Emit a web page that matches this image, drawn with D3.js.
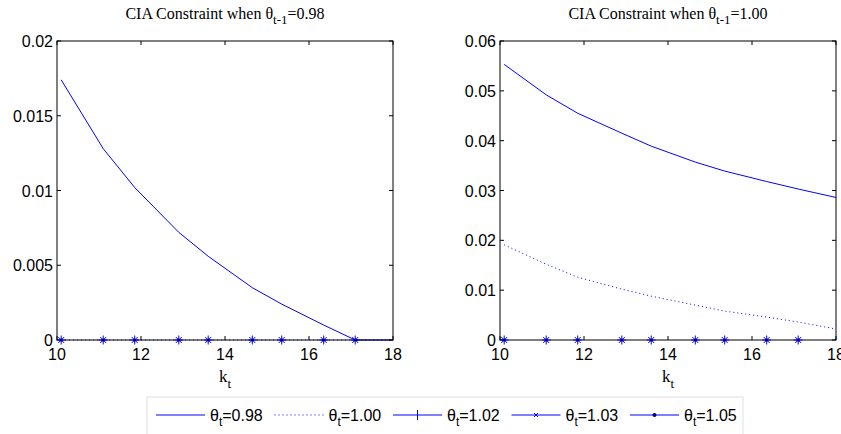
<!DOCTYPE html>
<html>
<head>
<meta charset="utf-8">
<script src="https://cdn.jsdelivr.net/npm/d3@7"></script>
<style>
  body { margin: 0; background: #fff; }
  svg { display: block; }
  .tick-label { font-family: "Liberation Sans", Arial, sans-serif; font-size: 16px; fill: #000; }
  .title, .xlab { font-family: "Liberation Serif", "Times New Roman", serif; fill: #000; }
</style>
</head>
<body>
<svg id="chart" width="841" height="434"></svg>
<script>
// k grid (x values)
var kLine = [10.1, 11.1, 11.85, 12.9, 13.6, 14.65, 15.35, 16.35, 17.1, 18];
var kMark = [10.1, 11.1, 11.85, 12.9, 13.6, 14.65, 15.35, 16.35, 17.1];

// left panel: theta_{t-1} = 0.98
var left098 = [0.0174, 0.0128, 0.0102, 0.0072, 0.0056, 0.0035, 0.0024, 0.0010, 0.0, 0.0];
var left100 = [0, 0, 0, 0, 0, 0, 0, 0, 0, 0];
// right panel: theta_{t-1} = 1.00
var right098 = [0.0553, 0.0492, 0.0455, 0.0415, 0.0389, 0.0357, 0.0339, 0.0318, 0.0303, 0.0286];
var right100 = [0.0191, 0.0152, 0.0126, 0.0102, 0.0088, 0.0070, 0.0058, 0.0046, 0.0036, 0.0022];
// theta_t = 1.02, 1.03, 1.05 are zero in both panels
var zeroMarks = [0, 0, 0, 0, 0, 0, 0, 0, 0];

var xTicks = [10, 12, 14, 16, 18];
var leftYTicks = [0, 0.005, 0.01, 0.015, 0.02];
var rightYTicks = [0, 0.01, 0.02, 0.03, 0.04, 0.05, 0.06];
var legendLabels = ['0.98', '1.00', '1.02', '1.03', '1.05'];

var svg = d3.select('#chart');
var blue = '#0000ff';

var panels = [
    { x0: 57, x1: 393, yMax: 0.02, yTicks: leftYTicks, fmt: d3.format('~g'),
      title: '0.98', s098: left098, s100: left100 },
    { x0: 500, x1: 836, yMax: 0.06, yTicks: rightYTicks, fmt: d3.format('~g'),
      title: '1.00', s098: right098, s100: right100 }
];

panels.forEach(drawPanel);
drawLegend();

function drawPanel(p) {
    var top = 41, bottom = 340;
    var x = d3.scaleLinear().domain([10, 18]).range([p.x0, p.x1]);
    var y = d3.scaleLinear().domain([0, p.yMax]).range([bottom, top]);
    var g = svg.append('g');

    var clipId = 'clip' + p.x0;
    g.append('clipPath').attr('id', clipId)
        .append('rect').attr('x', p.x0).attr('y', top - 1)
        .attr('width', p.x1 - p.x0).attr('height', bottom - top + 2);

    var line = d3.line()
        .x(function(d, i) { return x(kLine[i]); })
        .y(function(d) { return y(d); });

    var plot = g.append('g').attr('clip-path', 'url(#' + clipId + ')');
    plot.append('path').datum(p.s098)
        .attr('fill', 'none').attr('stroke', blue).attr('stroke-width', 1)
        .attr('d', line);
    plot.append('path').datum(p.s100)
        .attr('fill', 'none').attr('stroke', blue).attr('stroke-width', 1)
        .attr('stroke-dasharray', '1,3')
        .attr('d', line);

    // box
    g.append('rect').attr('x', p.x0).attr('y', top)
        .attr('width', p.x1 - p.x0).attr('height', bottom - top)
        .attr('fill', 'none').attr('stroke', '#000').attr('stroke-width', 1);

    // inward ticks, all four sides
    var tl = 4;
    xTicks.forEach(function(t) {
        g.append('line').attr('x1', x(t)).attr('x2', x(t)).attr('y1', bottom).attr('y2', bottom - tl).attr('stroke', '#000');
        g.append('line').attr('x1', x(t)).attr('x2', x(t)).attr('y1', top).attr('y2', top + tl).attr('stroke', '#000');
        g.append('text').attr('class', 'tick-label')
            .attr('x', x(t)).attr('y', bottom + 20)
            .attr('text-anchor', 'middle').text(t);
    });
    p.yTicks.forEach(function(t) {
        g.append('line').attr('x1', p.x0).attr('x2', p.x0 + tl).attr('y1', y(t)).attr('y2', y(t)).attr('stroke', '#000');
        g.append('line').attr('x1', p.x1).attr('x2', p.x1 - tl).attr('y1', y(t)).attr('y2', y(t)).attr('stroke', '#000');
        g.append('text').attr('class', 'tick-label')
            .attr('x', p.x0 - 4).attr('y', y(t) + 6)
            .attr('text-anchor', 'end').text(p.fmt(t));
    });

    // markers for theta_t = 1.02 (+), 1.03 (x), 1.05 (.)
    var mk = g.append('g');
    zeroMarks.forEach(function(v, i) {
        var cx = x(kMark[i]), cy = y(v);
        mk.append('path').attr('stroke', blue).attr('fill', 'none')
            .attr('d', 'M' + cx + ',' + (cy - 4.5) + 'V' + (cy + 4.5) + 'M' + (cx - 4.5) + ',' + cy + 'H' + (cx + 4.5));
        mk.append('path').attr('stroke', blue).attr('fill', 'none')
            .attr('d', 'M' + (cx - 3) + ',' + (cy - 3) + 'L' + (cx + 3) + ',' + (cy + 3) + 'M' + (cx - 3) + ',' + (cy + 3) + 'L' + (cx + 3) + ',' + (cy - 3));
        mk.append('circle').attr('cx', cx).attr('cy', cy).attr('r', 1.6).attr('fill', '#000080');
    });

    // title
    var cx = (p.x0 + p.x1) / 2;
    var title = g.append('text').attr('class', 'title')
        .attr('x', cx).attr('y', 19).attr('text-anchor', 'middle')
        .style('font-size', '16px');
    title.append('tspan').text('CIA Constraint when \u03b8');
    title.append('tspan').attr('dy', 5).style('font-size', '13px').text('t-1');
    title.append('tspan').attr('dy', -5).text('=' + p.title);

    // x label
    var xl = g.append('text').attr('class', 'xlab')
        .attr('x', cx).attr('y', 382).attr('text-anchor', 'middle')
        .style('font-size', '17px');
    xl.append('tspan').text('k');
    xl.append('tspan').attr('dy', 6).style('font-size', '13px').text('t');
}

function drawLegend() {
    var lg = svg.append('g');
    lg.append('rect').attr('x', 147).attr('y', 397).attr('width', 596).attr('height', 40)
        .attr('fill', '#fff').attr('stroke', '#e0e0e0');
    var step = 118.5, ly = 415;
    legendLabels.forEach(function(lab, i) {
        var lx = 156 + i * step;
        var ln = lg.append('line').attr('x1', lx).attr('x2', lx + 49)
            .attr('y1', ly).attr('y2', ly).attr('stroke', blue);
        if (i === 1) ln.attr('stroke-dasharray', '1,3');
        var mx = lx + 24.5;
        if (i === 2) lg.append('path').attr('stroke', blue).attr('d', 'M' + mx + ',' + (ly - 5) + 'V' + (ly + 5));
        if (i === 3) lg.append('path').attr('stroke', blue).attr('fill', 'none')
            .attr('d', 'M' + (mx - 2) + ',' + (ly - 2) + 'L' + (mx + 2) + ',' + (ly + 2) + 'M' + (mx - 2) + ',' + (ly + 2) + 'L' + (mx + 2) + ',' + (ly - 2));
        if (i === 4) lg.append('circle').attr('cx', mx).attr('cy', ly).attr('r', 2).attr('fill', '#000080');
        var t = lg.append('text').attr('class', 'tick-label')
            .attr('x', lx + 54).attr('y', ly + 6);
        t.append('tspan').text('\u03b8');
        t.append('tspan').attr('dy', 5).style('font-size', '12px').text('t');
        t.append('tspan').attr('dy', -5).text('=' + lab);
    });
}
</script>
</body>
</html>
